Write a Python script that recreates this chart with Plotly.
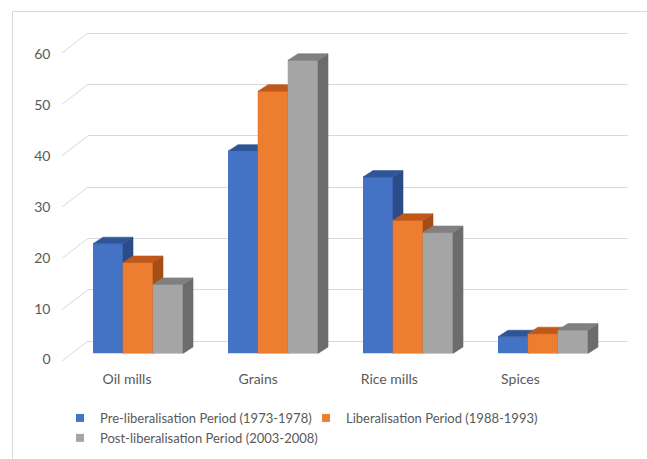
import plotly.graph_objects as go

# ---- data -------------------------------------------------------------
categories = ["Oil mills", "Grains", "Rice mills", "Spices"]
series_names = [
    "Pre-liberalisation Period (1973-1978)",
    "Liberalisation Period (1988-1993)",
    "Post-liberalisation Period (2003-2008)",
]
pre_liberalisation = [21.6, 39.8, 34.7, 3.3]
liberalisation = [17.9, 51.6, 26.2, 3.9]
post_liberalisation = [13.6, 57.7, 23.8, 4.6]
y_ticks = [0, 10, 20, 30, 40, 50, 60]

# ---- styling ------------------------------------------------------------
front_colors = ["#4472C4", "#ED7D31", "#A5A5A5"]
top_colors = ["#2F5597", "#C0581A", "#808080"]
side_colors = ["#2B4C88", "#A34E16", "#6C6C6C"]
grid_color = "#D9D9D9"
text_color = "#595959"
font_family = "Lato, 'Open Sans', sans-serif"

W, H = 647, 459
BARGAP = 1 / 3
DEPTH_X = 10 / 135     # depth of the 3D prism, in category units
DEPTH_Y = 6.5 / 5.083  # depth of the 3D prism, in value units


def fx(px):
    return px / W


def fy(py):
    return 1 - py / H


values = [pre_liberalisation, liberalisation, post_liberalisation]
n_series = len(values)
bar_w = (1 - BARGAP) / n_series
x_idx = list(range(len(categories)))


def edges(ci, k):
    left = ci - (1 - BARGAP) / 2 + k * bar_w
    return left, left + bar_w


def poly_trace(points_list, color):
    xs, ys = [], []
    for pts in points_list:
        for (px, py) in pts:
            xs.append(px)
            ys.append(py)
        xs.append(pts[0][0])
        ys.append(pts[0][1])
        xs.append(None)
        ys.append(None)
    return go.Scatter(
        x=xs, y=ys, mode="lines", fill="toself", fillcolor=color,
        line=dict(color=color, width=0.6), xaxis="x2", yaxis="y2",
        showlegend=False, hoverinfo="skip",
    )


fig = go.Figure()

# front faces of the bars
for k in range(n_series):
    fig.add_trace(go.Bar(
        x=x_idx, y=values[k], name=series_names[k],
        marker=dict(color=front_colors[k], line=dict(width=0)),
        xaxis="x2", yaxis="y2", showlegend=False,
    ))

# 3D side and top faces, painted back-to-front within each group
for k in range(n_series):
    if k > 0:
        fronts = []
        for ci in x_idx:
            xl, xr = edges(ci, k)
            v = values[k][ci]
            fronts.append([(xl, 0), (xr, 0), (xr, v), (xl, v)])
        fig.add_trace(poly_trace(fronts, front_colors[k]))
    sides, tops = [], []
    for ci in x_idx:
        xl, xr = edges(ci, k)
        v = values[k][ci]
        sides.append([(xr, 0), (xr + DEPTH_X, DEPTH_Y),
                      (xr + DEPTH_X, v + DEPTH_Y), (xr, v)])
        tops.append([(xl, v), (xr, v), (xr + DEPTH_X, v + DEPTH_Y),
                     (xl + DEPTH_X, v + DEPTH_Y)])
    fig.add_trace(poly_trace(sides, side_colors[k]))
    fig.add_trace(poly_trace(tops, top_colors[k]))

# legend entries
for k in range(n_series):
    fig.add_trace(go.Scatter(
        x=[None], y=[None], mode="markers", name=series_names[k],
        marker=dict(symbol="square", size=8, color=front_colors[k]),
        xaxis="x2", yaxis="y2",
    ))

# empty trace so the category axis along the floor edge is rendered
fig.add_trace(go.Scatter(x=[None], y=[None], xaxis="x3", yaxis="y2",
                         showlegend=False, hoverinfo="skip"))

# left-wall stubs joining the value labels to the back-wall gridlines
stub_drop = 20 / 5.133
shapes = []
for t in y_ticks:
    shapes.append(dict(
        type="line", xref="paper", yref="y",
        x0=fx(62), y0=t - stub_drop, x1=fx(88), y1=t,
        line=dict(color=grid_color, width=1), layer="below",
    ))
# chart frame
shapes.append(dict(
    type="rect", xref="paper", yref="paper",
    x0=fx(12.5), y0=-0.2, x1=1.2, y1=fy(11.5),
    line=dict(color=grid_color, width=1), layer="below",
))

fig.update_layout(
    width=W, height=H,
    margin=dict(l=0, r=0, t=0, b=0, autoexpand=False),
    paper_bgcolor="white", plot_bgcolor="rgba(0,0,0,0)",
    font=dict(family=font_family, size=14, color=text_color),
    barmode="group", bargap=BARGAP, bargroupgap=0,
    shapes=shapes,
    # back wall with gridlines
    xaxis=dict(domain=[fx(88), fx(628)], range=[0, 1], anchor="y",
               visible=False),
    yaxis=dict(domain=[fy(366.67), fy(7.35)], range=[-5, 65], anchor="x",
               tickvals=y_ticks, showticklabels=False, showgrid=True,
               gridcolor=grid_color, gridwidth=1, zeroline=False,
               showline=False, ticks=""),
    # front plane carrying the bars and value labels
    xaxis2=dict(domain=[fx(70.5), fx(610.5)], range=[-0.5, 3.5],
                anchor="y2", visible=False),
    yaxis2=dict(domain=[fy(353.5), fy(353.5 - 65 * 5.083)], range=[0, 65],
                anchor="x2", tickvals=y_ticks, showgrid=False,
                zeroline=False, showline=False, ticks="",
                ticklabelshift=6, ticklabelstandoff=19,
                tickfont=dict(size=14, color=text_color)),
    # floor edge carrying the category labels
    xaxis3=dict(domain=[fx(61.5), fx(586)], range=[-0.5, 3.5], anchor="y2",
                tickmode="array", tickvals=x_idx, ticktext=categories,
                showgrid=False, zeroline=False, showline=False, ticks="",
                ticklabelstandoff=15,
                tickfont=dict(size=14, color=text_color)),
    legend=dict(orientation="h", x=fx(60), y=fy(403), xanchor="left",
                yanchor="top", font=dict(size=13, color=text_color),
                entrywidth=201, entrywidthmode="pixels",
                bgcolor="rgba(0,0,0,0)"),
    hovermode=False,
)

fig.write_html("out.html")
